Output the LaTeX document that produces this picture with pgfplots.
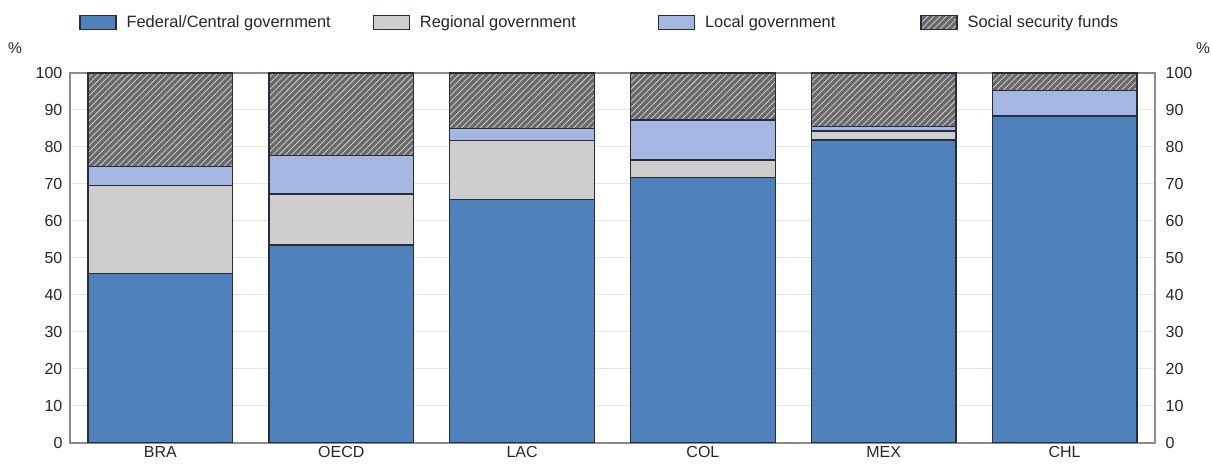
\documentclass[border=0pt]{standalone}
\usepackage{pgfplots}
\usepackage{pgfplotstable}
\pgfplotsset{compat=1.18}
\usepackage{fontspec}
\setmainfont{Liberation Sans}
\usetikzlibrary{patterns.meta}

\definecolor{fedblue}{RGB}{79,129,189}
\definecolor{reggray}{RGB}{206,206,206}
\definecolor{locblue}{RGB}{166,182,226}
\definecolor{ssgray}{RGB}{105,105,105}
\definecolor{sslines}{RGB}{200,200,200}
\definecolor{framegray}{RGB}{140,140,140}
\definecolor{gridgray}{RGB}{228,228,228}
\definecolor{edge}{RGB}{40,45,60}

% Shares of total revenue by level of government (%)
\pgfplotstableread{
x fed reg loc ss
0 45.9 23.6 5.2 25.3
1 53.5 13.8 10.3 22.4
2 65.9 15.8 3.4 14.9
3 71.7 4.8 10.8 12.7
4 81.9 2.4 1.2 14.5
5 88.4 0.0 6.8 4.8
}\shares

\begin{document}
\fontsize{7.8}{9}\selectfont
\begin{tikzpicture}
\useasboundingbox (-35pt,-11pt) rectangle (570.5pt,221.5pt);
\begin{axis}[
  at={(0,0)}, anchor=south west,
  scale only axis, width=542.5pt, height=185pt,
  ybar stacked, bar width=0.8,
  xmin=-0.5, xmax=5.5, ymin=0, ymax=100,
  xtick=data, xticklabels={BRA,OECD,LAC,COL,MEX,CHL},
  ytick={0,10,...,100},
  major tick length=0pt,
  ymajorgrids, grid style={gridgray, line width=0.5pt},
  axis line style={framegray, line width=0.6pt},
  tick label style={font=\fontsize{8}{9}\selectfont, text=black!85},
  /pgf/number format/assume math mode=true,
  yticklabel style={xshift=-1pt},
  xticklabel style={yshift=1pt},
  ylabel={\%}, ylabel style={rotate=-90, at={(rel axis cs:0,1)}, anchor=center, xshift=-27.5pt, yshift=12.5pt, font=\fontsize{7.8}{9}\selectfont, text=black!85},
  legend columns=4,
  legend style={draw=none, fill=none, inner sep=0pt, at={(rel axis cs:0,1)}, anchor=west, xshift=4.5pt, yshift=25pt,
    font=\fontsize{8.2}{9}\selectfont, text=black!85,
    /tikz/column 1/.style={column sep=3pt},
    /tikz/column 2/.style={column sep=19pt},
    /tikz/column 3/.style={column sep=3pt},
    /tikz/column 4/.style={column sep=39pt},
    /tikz/column 5/.style={column sep=3pt},
    /tikz/column 6/.style={column sep=40.5pt},
    /tikz/column 7/.style={column sep=3pt}},
  legend image code/.code={\draw[#1] (0pt,-3.2pt) rectangle (18pt,3.6pt);},
  every axis plot/.append style={draw=edge, line width=0.6pt},
]
\addplot[fill=fedblue] table[x=x, y=fed] {\shares};
\addlegendentry{Federal/Central government}
\addplot[fill=reggray] table[x=x, y=reg] {\shares};
\addlegendentry{Regional government}
\addplot[fill=locblue] table[x=x, y=loc] {\shares};
\addlegendentry{Local government}
\addplot[fill=ssgray, postaction={pattern={Lines[angle=45,distance=2.2pt,line width=0.45pt]}, pattern color=sslines}] table[x=x, y=ss] {\shares};
\addlegendentry{Social security funds}
\end{axis}
\begin{axis}[
  at={(0,0)}, anchor=south west,
  scale only axis, width=542.5pt, height=185pt,
  xmin=-0.5, xmax=5.5, ymin=0, ymax=100,
  axis x line=none, axis y line*=right,
  ytick={0,10,...,100}, major tick length=0pt,
  axis line style={draw=none},
  tick label style={font=\fontsize{8}{9}\selectfont, text=black!85},
  /pgf/number format/assume math mode=true,
  yticklabel style={xshift=2.5pt},
  ylabel={\%}, ylabel style={rotate=-90, at={(rel axis cs:1,1)}, anchor=center, xshift=24pt, yshift=12.5pt, font=\fontsize{7.8}{9}\selectfont, text=black!85},
]
\end{axis}
\end{tikzpicture}
\end{document}
